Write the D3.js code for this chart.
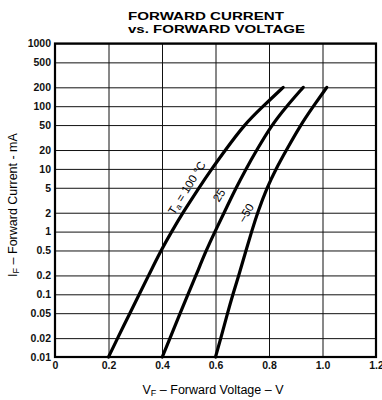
<!DOCTYPE html>
<html>
<head>
<meta charset="utf-8">
<script src="https://cdn.jsdelivr.net/npm/d3@7"></script>
<style>
  body { margin: 0; background: #fff; }
  svg { display: block; font-family: "Liberation Sans", Arial, sans-serif; }
  .grid line { stroke: #111; stroke-width: 1; }
  .grid path { display: none; }
  .tick text { font-size: 10.5px; font-weight: bold; fill: #111; }
</style>
</head>
<body>
<div id="chart"></div>
<script>
// Data
const currents = [0.01, 0.02, 0.05, 0.1, 0.2, 0.5, 1, 2, 5, 10, 20, 50, 100, 200]; // mA
const v100 = [0.200, 0.234, 0.280, 0.315, 0.350, 0.396, 0.436, 0.478, 0.538, 0.586, 0.637, 0.706, 0.778, 0.853];
const v25 = [0.401, 0.430, 0.468, 0.497, 0.527, 0.565, 0.598, 0.632, 0.677, 0.714, 0.754, 0.810, 0.866, 0.928];
const vMinus50 = [0.600, 0.620, 0.645, 0.665, 0.687, 0.714, 0.735, 0.757, 0.792, 0.826, 0.865, 0.918, 0.966, 1.016];

const yTicks = [0.01, 0.02, 0.05, 0.1, 0.2, 0.5, 1, 2, 5, 10, 20, 50, 100, 200, 500, 1000];
const yTickLabels = ["0.01", "0.02", "0.05", "0.1", "0.2", "0.5", "1", "2", "5", "10", "20", "50", "100", "200", "500", "1000"];
const xTicks = [0, 0.2, 0.4, 0.6, 0.8, 1.0, 1.2];
const xTickLabels = ["0", "0.2", "0.4", "0.6", "0.8", "1.0", "1.2"];

const series = [
  { name: "100", values: v100 },
  { name: "25", values: v25 },
  { name: "-50", values: vMinus50 }
];

const width = 382;
const height = 400;
const margin = { top: 43.5, right: 6, bottom: 43, left: 55 };
const innerWidth = width - margin.left - margin.right;
const innerHeight = height - margin.top - margin.bottom;

const svg = d3.select("#chart")
  .append("svg")
  .attr("width", width)
  .attr("height", height);

const innerChart = svg.append("g")
  .attr("transform", `translate(${margin.left}, ${margin.top})`);

const xScale = d3.scaleLinear().domain([0, 1.2]).range([0, innerWidth]);
const yScale = d3.scaleLog().domain([0.01, 1000]).range([innerHeight, 0]);

// horizontal grid + y labels
innerChart.append("g")
  .attr("class", "grid")
  .call(d3.axisLeft(yScale)
    .tickValues(yTicks)
    .tickSize(-innerWidth)
    .tickPadding(4)
    .tickFormat((d, i) => yTickLabels[i]));

// vertical grid + x labels
innerChart.append("g")
  .attr("class", "grid")
  .attr("transform", `translate(0, ${innerHeight})`)
  .call(d3.axisBottom(xScale)
    .tickValues(xTicks)
    .tickSize(-innerHeight)
    .tickPadding(5)
    .tickFormat((d, i) => xTickLabels[i]));

// frame
innerChart.append("rect")
  .attr("width", innerWidth)
  .attr("height", innerHeight)
  .attr("fill", "none")
  .attr("stroke", "#000")
  .attr("stroke-width", 2.2);

const lineGenerator = d3.line()
  .x(d => xScale(d[0]))
  .y(d => yScale(d[1]))
  .curve(d3.curveBasis);

innerChart.selectAll(".curve")
  .data(series)
  .join("path")
  .attr("class", "curve")
  .attr("d", s => lineGenerator(s.values.map((v, i) => [v, currents[i]])))
  .attr("fill", "none")
  .attr("stroke", "#000")
  .attr("stroke-width", 3.2)
  .attr("stroke-linecap", "round");

// curve labels
const angle = -58;
const lab100 = innerChart.append("text")
  .attr("transform", `translate(${xScale(0.493)}, ${yScale(5)}) rotate(${angle})`)
  .attr("text-anchor", "middle")
  .attr("dy", "0.35em")
  .style("font-size", "11.5px");
lab100.append("tspan").text("T");
lab100.append("tspan").attr("dy", "2").style("font-size", "8.5px").text("a");
lab100.append("tspan").attr("dy", "-2").text(" = 100 °C");

innerChart.append("text")
  .attr("transform", `translate(${xScale(0.613)}, ${yScale(3.8)}) rotate(${angle})`)
  .attr("text-anchor", "middle")
  .attr("dy", "0.35em")
  .style("font-size", "11.5px")
  .text("25");

innerChart.append("text")
  .attr("transform", `translate(${xScale(0.714)}, ${yScale(2)}) rotate(${angle})`)
  .attr("text-anchor", "middle")
  .attr("dy", "0.35em")
  .style("font-size", "11.5px")
  .text("–50");

// title
svg.append("text")
  .attr("x", 128).attr("y", 19.5)
  .attr("textLength", 156)
  .attr("lengthAdjust", "spacingAndGlyphs")
  .style("font-size", "11px").style("font-weight", "bold")
  .text("FORWARD CURRENT");
svg.append("text")
  .attr("x", 128).attr("y", 33)
  .attr("textLength", 177)
  .attr("lengthAdjust", "spacingAndGlyphs")
  .style("font-size", "11px").style("font-weight", "bold")
  .text("vs. FORWARD VOLTAGE");

// axis titles
const xTitle = svg.append("text")
  .attr("x", 213).attr("y", 394)
  .attr("text-anchor", "middle")
  .style("font-size", "12.5px");
xTitle.append("tspan").text("V");
xTitle.append("tspan").attr("dy", "2").style("font-size", "9px").text("F");
xTitle.append("tspan").attr("dy", "-2").text(" – Forward Voltage – V");

const yTitle = svg.append("text")
  .attr("transform", "translate(17, 205) rotate(-90)")
  .attr("text-anchor", "middle")
  .style("font-size", "12.5px");
yTitle.append("tspan").text("I");
yTitle.append("tspan").attr("dy", "2").style("font-size", "9px").text("F");
yTitle.append("tspan").attr("dy", "-2").text(" – Forward Current - mA");
</script>
</body>
</html>
